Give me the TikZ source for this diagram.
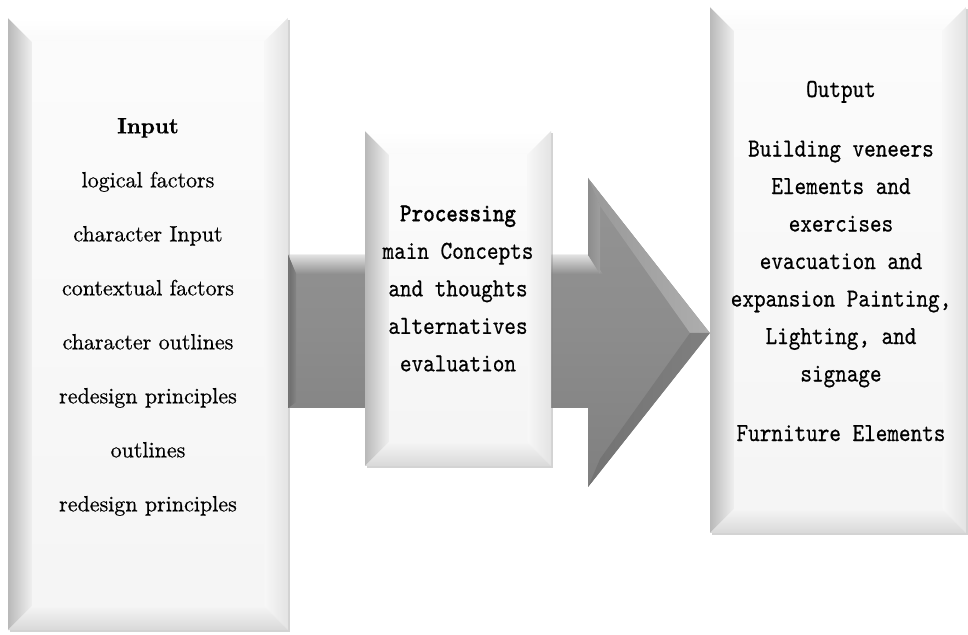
\documentclass[tikz,border=0pt]{standalone}
\usepackage{fontspec}
\newfontfamily\monofont{lmmono10-regular.otf}[FakeStretch=0.85, FakeBold=0.5, BoldFont=lmmonolt10-bold.otf]
\newfontfamily\seriffont{lmroman10-regular.otf}[FakeBold=0.6, BoldFont=lmroman10-bold.otf]
\usetikzlibrary{shadows,backgrounds}
\tikzset{
	every node/.style = {inner sep=0pt},
	bevelbox/.style = {rectangle, fill=gray!5,
		drop shadow={shadow xshift=1.5pt, shadow yshift=-2pt, opacity=0.35},
		path picture={
			\coordinate (sw) at (path picture bounding box.south west);
			\coordinate (ne) at (path picture bounding box.north east);
			\coordinate (nw) at (sw |- ne);
			\coordinate (se) at (ne |- sw);
			% four bevel sides and the face
			\shade[left color=gray!55, right color=gray!12] (sw) -- (nw) -- ([shift={(24,-24)}]nw) -- ([shift={(24,24)}]sw) -- cycle;
			\shade[top color=white, bottom color=gray!4] (nw) -- (ne) -- ([shift={(-24,-24)}]ne) -- ([shift={(24,-24)}]nw) -- cycle;
			\shade[left color=gray!6, right color=gray!22] (ne) -- (se) -- ([shift={(-24,24)}]se) -- ([shift={(-24,-24)}]ne) -- cycle;
			\shade[top color=gray!8, bottom color=gray!30] (se) -- (sw) -- ([shift={(24,24)}]sw) -- ([shift={(-24,24)}]se) -- cycle;
			\shade[top color=gray!3, bottom color=gray!8] ([shift={(24,24)}]sw) rectangle ([shift={(-24,-24)}]ne);
		}},
	serifline/.style = {align=center, font={\seriffont\fontsize{22}{54}\selectfont}},
	monoline/.style = {align=center, font={\monofont\fontsize{26}{37.5}\selectfont}},
	arrowbody/.style = {top color=black!42, bottom color=black!50, middle color=black!45}
}

\begin{document}
\begin{tikzpicture}[x=1pt, y=1pt]
	\useasboundingbox (0,0) rectangle (968,634);
	\node[bevelbox, minimum width=280pt, minimum height=612pt] (input) at (148,310) {};
	\node[bevelbox, minimum width=186pt, minimum height=335pt] (process) at (458,335.5) {};
	\node[bevelbox, minimum width=256pt, minimum height=526pt] (output) at (838,364) {};
	\node[serifline] (inputtext) at ([yshift=7pt]input.center)
		{\textbf{Input}\\logical factors\\character Input\\contextual factors\\character outlines\\redesign principles\\outlines\\redesign principles};
	\node[monoline] (processtext) at ([yshift=10pt]process.center)
		{\textbf{Processing}\\main Concepts\\and thoughts\\alternatives\\evaluation};
	\node[monoline] (outputtext) at ([shift={(3pt,9pt)}]output.center)
		{Output\\[22pt]Building veneers\\Elements and\\exercises\\evacuation and\\expansion Painting,\\Lighting, and\\signage\\[22pt]Furniture Elements};
	% big arrow behind the middle box
	\coordinate (shafttop) at (input.east |- 0,379);
	\coordinate (shaftbot) at (input.east |- 0,226);
	\coordinate (tip) at (output.west |- 0,301);
	\begin{pgfonlayer}{background}
		\shade[arrowbody] (shafttop) -- (588,379) -- (588,456) -- (tip) -- (588,147) -- (588,226) -- (shaftbot) -- cycle;
		\shade[top color=black!12, bottom color=black!44] (shafttop) -- (588,379) -- (603,360) -- ([shift={(8pt,-19pt)}]shafttop) -- cycle;
		\shade[left color=black!58, right color=black!48] (shafttop) -- ([shift={(8pt,-19pt)}]shafttop) -- ([shift={(8pt,6pt)}]shaftbot) -- (shaftbot) -- cycle;
		\shade[left color=black!40, right color=black!32] (588,456) -- (tip) -- (690,301) -- (600,428) -- cycle;
		\shade[left color=black!45, right color=black!38] (588,456) -- (600,428) -- (600,360) -- (588,379) -- cycle;
		\shade[left color=black!55, right color=black!50] (588,147) -- (tip) -- (690,301) -- (600,175) -- cycle;
	\end{pgfonlayer}
\end{tikzpicture}
\end{document}
